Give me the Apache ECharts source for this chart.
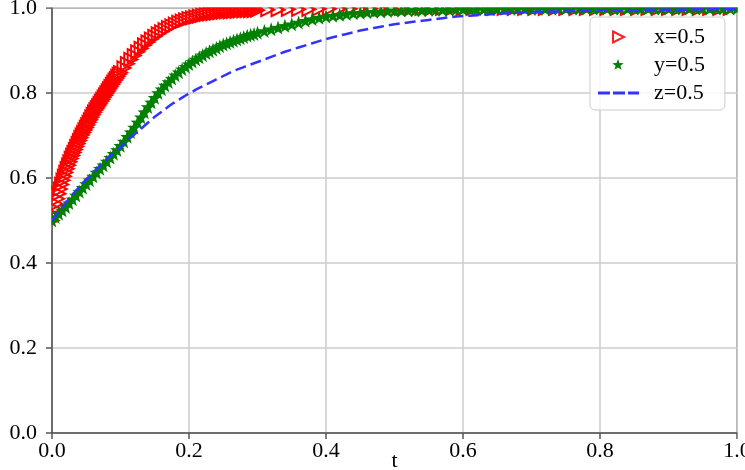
<!DOCTYPE html>
<html>
<head>
<meta charset="utf-8">
<script src="https://cdn.jsdelivr.net/npm/echarts@6/dist/echarts.min.js"></script>
<style>
html,body{margin:0;padding:0;background:#fff;}
#chart{width:745px;height:470px;}
</style>
</head>
<body>
<div id="chart"></div>
<script>
// time values for series x=0.5 (solver output, dense at the start)
const TX = [
0,0.002,0.004,0.006,0.008,0.01,0.012,0.014,0.016,0.018,
0.02,0.022,0.024,0.026,0.028,0.03,0.032,0.034,0.036,0.038,
0.04,0.042,0.044,0.046,0.048,0.05,0.052,0.054,0.056,0.058,
0.06,0.062,0.064,0.066,0.068,0.07,0.072,0.074,0.076,0.078,
0.08,0.082,0.084,0.086,0.088,0.09,0.092,0.094,0.096,0.098,
0.1,
0.105,0.11,0.115,0.12,0.125,0.13,0.135,0.14,0.145,
0.15,0.155,0.16,0.165,0.17,0.175,0.18,0.185,0.19,0.195,
0.2,0.205,0.21,0.215,0.22,0.225,0.23,0.235,0.24,0.245,
0.25,0.255,0.26,0.265,0.27,0.275,0.28,0.285,0.29,0.295,
0.3,
0.315,0.33,0.345,0.36,0.375,0.39,0.405,0.42,0.435,0.45,
0.465,0.48,0.495,0.51,0.525,0.54,0.555,0.57,0.585,0.6,
0.615,0.63,0.645,0.66,0.675,0.69,0.705,0.72,0.735,0.75,
0.765,0.78,0.795,0.81,0.825,0.84,0.855,0.87,0.885,0.9,
0.915,0.93,0.945,0.96,0.975,0.99
];
// series x=0.5 (red hollow triangles)
const X = [
0.500,0.514,0.527,0.539,0.551,0.563,0.574,0.585,0.595,0.604,
0.613,0.622,0.630,0.638,0.646,0.653,0.660,0.667,0.674,0.681,
0.688,0.695,0.701,0.707,0.713,0.719,0.725,0.731,0.737,0.743,
0.749,0.755,0.760,0.765,0.770,0.775,0.780,0.785,0.790,0.795,
0.800,0.805,0.810,0.815,0.820,0.825,0.830,0.834,0.839,0.844,
0.848,
0.859,0.869,0.879,0.888,0.897,0.905,0.913,0.920,0.927,
0.933,0.939,0.944,0.949,0.954,0.958,0.962,0.966,0.969,0.972,
0.975,0.977,0.979,0.981,0.983,0.985,0.986,0.987,0.988,0.989,
0.990,0.991,0.991,0.992,0.992,0.993,0.993,0.994,0.994,0.994,
0.995,
0.996,0.996,0.997,0.997,0.997,0.998,0.998,0.998,0.998,0.998,
0.998,0.998,0.999,0.999,0.999,0.999,0.999,0.999,0.999,0.999,
0.999,0.999,0.999,0.999,0.999,0.999,0.999,0.999,0.999,0.999,
0.999,0.999,0.999,0.999,0.999,0.999,0.999,0.999,0.999,0.999,
0.999,0.999,0.999,0.999,0.999,0.999
];
// time values for series y=0.5 and z=0.5
const T = [
0,0.005,0.01,0.015,0.02,0.025,0.03,0.035,0.04,0.045,
0.05,0.055,0.06,0.065,0.07,0.075,0.08,0.085,0.09,0.095,
0.1,0.105,0.11,0.115,0.12,0.125,0.13,0.135,0.14,0.145,
0.15,0.155,0.16,0.165,0.17,0.175,0.18,0.185,0.19,0.195,
0.2,0.205,0.21,0.215,0.22,0.225,0.23,0.235,0.24,0.245,
0.25,0.255,0.26,0.265,0.27,0.275,0.28,0.285,0.29,0.295,
0.3,
0.31,0.32,0.33,0.34,0.35,0.36,0.37,0.38,0.39,0.4,
0.41,0.42,0.43,0.44,0.45,0.46,0.47,0.48,0.49,0.5,
0.51,0.52,0.53,0.54,0.55,0.56,0.57,0.58,0.59,0.6,
0.61,0.62,0.63,0.64,0.65,0.66,0.67,0.68,0.69,0.7,
0.71,0.72,0.73,0.74,0.75,0.76,0.77,0.78,0.79,0.8,
0.81,0.82,0.83,0.84,0.85,0.86,0.87,0.88,0.89,0.9,
0.91,0.92,0.93,0.94,0.95,0.96,0.97,0.98,0.99,1.0
];
// series y=0.5 (green stars)
const Y = [
0.500,0.508,0.516,0.524,0.532,0.541,0.550,0.559,0.568,0.577,
0.586,0.595,0.604,0.613,0.622,0.630,0.639,0.648,0.657,0.666,
0.676,0.686,0.697,0.708,0.719,0.731,0.743,0.755,0.767,0.778,
0.789,0.800,0.809,0.818,0.826,0.834,0.842,0.849,0.856,0.862,
0.868,0.874,0.879,0.884,0.889,0.894,0.898,0.902,0.906,0.910,
0.914,0.917,0.920,0.923,0.926,0.929,0.932,0.935,0.937,0.939,
0.942,
0.946,0.950,0.954,0.958,0.962,0.966,0.970,0.974,0.977,0.980,
0.982,0.984,0.986,0.988,0.989,0.990,0.991,0.992,0.993,0.994,
0.994,0.995,0.995,0.995,0.996,0.996,0.996,0.996,0.997,0.997,
0.997,0.997,0.997,0.997,0.998,0.998,0.998,0.998,0.998,0.998,
0.998,0.998,0.998,0.999,0.999,0.999,0.999,0.999,0.999,0.999,
0.999,0.999,0.999,0.999,0.999,0.999,0.999,0.999,0.999,0.999,
0.999,0.999,0.999,0.999,0.999,0.999,0.999,0.999,0.999,0.999
];
// series z=0.5 (blue dashed)
const Z = [
0.500,0.511,0.521,0.531,0.541,0.551,0.561,0.570,0.579,0.588,
0.597,0.605,0.613,0.621,0.629,0.637,0.645,0.652,0.659,0.666,
0.673,0.681,0.688,0.695,0.702,0.709,0.716,0.723,0.730,0.737,
0.744,0.750,0.756,0.762,0.768,0.774,0.779,0.784,0.789,0.794,
0.799,0.803,0.808,0.812,0.816,0.820,0.824,0.828,0.832,0.836,
0.840,0.844,0.848,0.852,0.855,0.858,0.861,0.864,0.867,0.870,
0.873,
0.879,0.885,0.891,0.897,0.902,0.907,0.912,0.917,0.922,0.927,
0.931,0.935,0.939,0.943,0.947,0.950,0.953,0.956,0.959,0.962,
0.964,0.966,0.968,0.970,0.972,0.974,0.976,0.978,0.980,0.981,
0.982,0.983,0.984,0.985,0.986,0.987,0.988,0.989,0.990,0.990,
0.991,0.991,0.992,0.992,0.993,0.993,0.993,0.994,0.994,0.994,
0.995,0.995,0.995,0.995,0.995,0.995,0.996,0.996,0.996,0.996,
0.996,0.996,0.996,0.997,0.997,0.997,0.997,0.997,0.997,0.997
];
const seriesNames = ['x=0.5', 'y=0.5', 'z=0.5'];

const FONT = 'Liberation Serif';
const pair = (ts, ys) => ts.map((t, i) => [t, ys[i]]);

const TRI = 'path://M0,0 L10,5 L0,10 Z';
const STAR = 'path://M0,-10 L2.35,-3.24 L9.51,-3.09 L3.80,1.24 L5.88,8.09 L0,4 L-5.88,8.09 L-3.80,1.24 L-9.51,-3.09 L-2.35,-3.24 Z';

const LEG_TRI = 'path://M0,0 M51,14 M15,1.5 L26,7 L15,12.5 Z';
const LEG_STAR = 'path://M0,0 M51,14 M20,1 L21.47,4.98 L25.71,5.15 L22.38,7.77 L23.53,11.85 L20,9.5 L16.47,11.85 L17.62,7.77 L14.29,5.15 L18.53,4.98 Z';
const LEG_DASH = 'path://M0,0 M51,14 M0,5.5 L12,5.5 L12,8.5 L0,8.5 Z M15,5.5 L27,5.5 L27,8.5 L15,8.5 Z M30,5.5 L41,5.5 L41,8.5 L30,8.5 Z';

const axisCommon = {
  type: 'value', min: 0, max: 1, interval: 0.2,
  axisLine: { show: true, onZero: false, lineStyle: { color: '#555', width: 1.5 } },
  axisTick: { show: true, inside: false, length: 6, lineStyle: { color: '#555', width: 1.5 } },
  splitLine: { show: true, lineStyle: { color: '#cccccc', width: 1.5 } },
};

const chart = echarts.init(document.getElementById('chart'), null, { renderer: 'canvas' });
chart.setOption({
  animation: false,
  backgroundColor: '#fff',
  textStyle: { fontFamily: FONT },
  grid: { left: 52, right: 8, top: 8, bottom: 37, containLabel: false, outerBoundsMode: 'none',
          show: true, borderColor: '#555', borderWidth: 1.5, backgroundColor: 'transparent' },
  xAxis: Object.assign({}, axisCommon, {
    name: 't', nameLocation: 'middle', nameGap: 17, nameMoveOverlap: false,
    nameTextStyle: { fontFamily: FONT, fontSize: 22, color: '#000' },
    axisLabel: { margin: 7, fontFamily: FONT, fontSize: 22, color: '#000',
      showMinLabel: true, showMaxLabel: true, hideOverlap: false,
      formatter: v => v.toFixed(1) }
  }),
  yAxis: Object.assign({}, axisCommon, {
    axisLabel: { margin: 15, fontFamily: FONT, fontSize: 22, color: '#000',
      showMinLabel: true, showMaxLabel: true, hideOverlap: false,
      formatter: v => v.toFixed(1) }
  }),
  legend: {
    orient: 'vertical', left: 590, top: 17,
    padding: [9, 20, 6, 7],
    itemWidth: 51, itemHeight: 14, itemGap: 6,
    selectedMode: false, z: 20,
    backgroundColor: 'rgba(255,255,255,0.85)', borderColor: '#cccccc', borderWidth: 1, borderRadius: 5,
    textStyle: { fontFamily: FONT, fontSize: 22, color: '#000' },
    data: [
      { name: seriesNames[0], icon: LEG_TRI, itemStyle: { color: '#ffffff', borderColor: '#ff2020', borderWidth: 2 } },
      { name: seriesNames[1], icon: LEG_STAR, itemStyle: { color: '#008000', borderWidth: 0 } },
      { name: seriesNames[2], icon: LEG_DASH, itemStyle: { color: '#3333ff', borderWidth: 0 } }
    ]
  },
  // white masks that clip markers at the plot frame, as the original plot does
  graphic: [
    { type: 'rect', z: 10, silent: true, shape: { x: 45, y: 0, width: 700, height: 7.2 }, style: { fill: '#fff' } },
    { type: 'rect', z: 10, silent: true, shape: { x: 737.8, y: 0, width: 8, height: 440 }, style: { fill: '#fff' } },
    { type: 'rect', z: 10, silent: true, shape: { x: 40, y: 190, width: 11.2, height: 40 }, style: { fill: '#fff' } }
  ],
  series: [
    {
      name: seriesNames[0], type: 'line', data: pair(TX, X),
      symbol: TRI, symbolSize: 13, showSymbol: true, showAllSymbol: true,
      itemStyle: { color: 'rgba(255,255,255,0)', borderColor: '#ff0000', borderWidth: 2 },
      lineStyle: { width: 0, opacity: 0 },
      emphasis: { disabled: true }, silent: true, z: 2
    },
    {
      name: seriesNames[1], type: 'line', data: pair(T, Y),
      symbol: STAR, symbolSize: 14, showSymbol: true, showAllSymbol: true,
      itemStyle: { color: '#008000', borderWidth: 0 },
      lineStyle: { width: 0, opacity: 0 },
      emphasis: { disabled: true }, silent: true, z: 3
    },
    {
      name: seriesNames[2], type: 'line', data: pair(T, Z),
      symbol: 'none', showSymbol: false,
      itemStyle: { color: '#3333ff' },
      lineStyle: { color: '#3333ff', width: 2.5, type: [11, 5] },
      emphasis: { disabled: true }, silent: true, z: 4
    }
  ]
});
</script>
</body>
</html>
